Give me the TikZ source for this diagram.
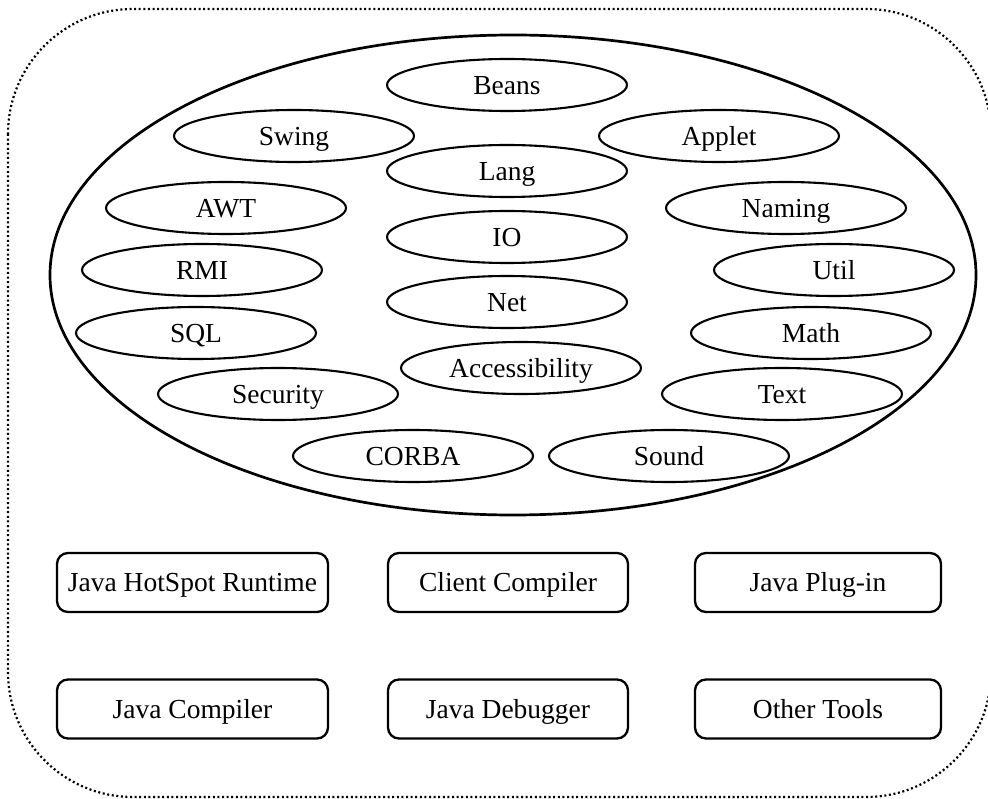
\documentclass[tikz,border=0pt]{standalone}
\usepackage{fontspec}
\setmainfont{Liberation Serif}
\usetikzlibrary{shapes.geometric}
\begin{document}
\begin{tikzpicture}[x=1pt,y=-1pt,
  lbl/.style={font=\fontsize{27.5pt}{32pt}\selectfont,text height=18.5pt,text depth=0pt},
  pkg/.style={lbl,draw,ellipse,line width=2.1pt,minimum width=240pt,minimum height=52pt,inner sep=0pt},
  tool/.style={lbl,draw,rounded corners=11pt,line width=2.3pt,minimum height=59pt,inner sep=0pt},
  frame/.style={line width=2.2pt,dash pattern=on 2pt off 2.6pt,rounded corners=125pt}]
\useasboundingbox (0,0) rectangle (988,799);
\draw[frame] (8,9) rectangle (991,797);
\node[draw,ellipse,line width=2.7pt,minimum width=926pt,minimum height=480pt,inner sep=0pt] (jdk) at (513,275) {};
\node[pkg] (beans) at (507,85) {Beans};
\node[pkg] (swing) at (294,136) {Swing};
\node[pkg] (applet) at (719,136) {Applet};
\node[pkg] (lang) at (507,171) {Lang};
\node[pkg] (awt) at (226,208) {AWT};
\node[pkg] (naming) at (786,208) {Naming};
\node[pkg] (io) at (507,237) {IO};
\node[pkg] (rmi) at (202,270) {RMI};
\node[pkg] (util) at (834,270) {Util};
\node[pkg] (net) at (507,302) {Net};
\node[pkg] (sql) at (196,333) {SQL};
\node[pkg] (math) at (811,333) {Math};
\node[pkg] (acc) at (521,368) {Accessibility};
\node[pkg] (sec) at (278,394) {Security};
\node[pkg] (text) at (782,394) {Text};
\node[pkg] (corba) at (413,456) {CORBA};
\node[pkg] (sound) at (669,456) {Sound};
\node[tool,minimum width=271pt] (hotspot) at (192.5,582.5) {Java HotSpot Runtime};
\node[tool,minimum width=240pt] (client) at (508,582.5) {Client Compiler};
\node[tool,minimum width=246pt] (plugin) at (818,582.5) {Java Plug-in};
\node[tool,minimum width=271pt] (javac) at (192.5,709) {Java Compiler};
\node[tool,minimum width=240pt] (jdb) at (508,709) {Java Debugger};
\node[tool,minimum width=246pt] (other) at (818,709) {Other Tools};
\end{tikzpicture}
\end{document}
